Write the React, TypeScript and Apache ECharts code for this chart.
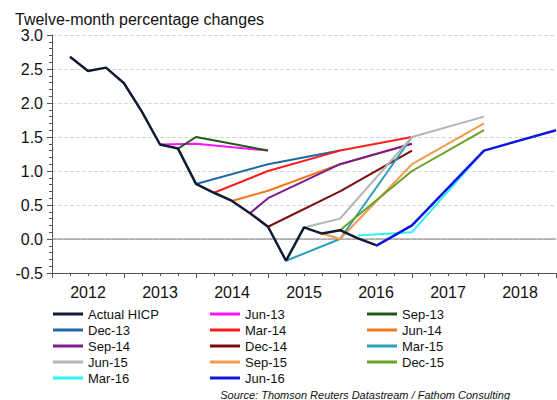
import React, { useEffect, useRef } from "react";
import * as echarts from "echarts";

// x positions are quarter indices counted from the start of 2012 (1 = end of Q1 2012)
const years = ["2012", "2013", "2014", "2015", "2016", "2017", "2018"];

const actualQ = [1, 2, 3, 4, 5, 6, 7, 8, 9, 10, 11, 12, 13, 14, 15, 16, 17, 18];
const actualHICP = [2.68, 2.47, 2.52, 2.29, 1.87, 1.39, 1.33, 0.81, 0.68, 0.56, 0.38, 0.18, -0.32, 0.17, 0.08, 0.13, 0.01, -0.09];

const jun13Q = [6, 8, 12];
const jun13 = [1.39, 1.4, 1.3];
const sep13Q = [7, 8, 12];
const sep13 = [1.33, 1.5, 1.3];
const dec13Q = [8, 12, 16];
const dec13 = [0.81, 1.1, 1.3];
const mar14Q = [9, 12, 16, 20];
const mar14 = [0.68, 1.0, 1.3, 1.5];
const jun14Q = [10, 12, 16, 20];
const jun14 = [0.56, 0.71, 1.1, 1.4];
const sep14Q = [11, 12, 16, 20];
const sep14 = [0.38, 0.6, 1.1, 1.4];
const dec14Q = [12, 16, 20];
const dec14 = [0.18, 0.7, 1.3];
const mar15Q = [13, 16, 20];
const mar15 = [-0.32, 0.0, 1.5];
const jun15Q = [14, 16, 20, 24];
const jun15 = [0.17, 0.3, 1.5, 1.8];
const sep15Q = [15, 16, 20, 24];
const sep15 = [0.08, 0.0, 1.1, 1.7];
const dec15Q = [16, 20, 24];
const dec15 = [0.13, 1.0, 1.6];
const mar16Q = [17, 20, 24];
const mar16 = [0.05, 0.1, 1.3];
const jun16Q = [18, 20, 24, 28];
const jun16 = [-0.1, 0.2, 1.3, 1.6];

const seriesNames = [
  "Actual HICP", "Jun-13", "Sep-13",
  "Dec-13", "Mar-14", "Jun-14",
  "Sep-14", "Dec-14", "Mar-15",
  "Jun-15", "Sep-15", "Dec-15",
  "Mar-16", "Jun-16",
];

const FONT = '"Liberation Sans", Arial, sans-serif';

const zip = (q: number[], v: number[]) => q.map((x, i) => [x, v[i]]);

export default function App() {
  const ref = useRef<HTMLDivElement>(null);
  useEffect(() => {
    if (!ref.current) return;
    const chart = echarts.init(ref.current, undefined, { renderer: "svg" });

    const mk = (name: string, q: number[], v: number[], color: string, width = 2, z = 2) => ({
      name,
      type: "line",
      xAxisIndex: 0,
      data: zip(q, v),
      symbol: "none",
      lineStyle: { color, width },
      itemStyle: { color },
      z,
      silent: true,
    });

    const series: any[] = [
      {
        name: "zero",
        type: "line",
        xAxisIndex: 0,
        data: [[0, 0], [28, 0]],
        symbol: "none",
        lineStyle: { color: "#7a7a7a", width: 1 },
        silent: true,
        z: 1,
      },
      mk("Jun-13", jun13Q, jun13, "#ff10ff"),
      mk("Sep-13", sep13Q, sep13, "#1d5a14"),
      mk("Dec-13", dec13Q, dec13, "#1f68a6"),
      mk("Mar-14", mar14Q, mar14, "#ff1c1c"),
      mk("Jun-14", jun14Q, jun14, "#f27a1a"),
      mk("Sep-14", sep14Q, sep14, "#7b1c8e"),
      mk("Dec-14", dec14Q, dec14, "#7a0c0c"),
      mk("Mar-15", mar15Q, mar15, "#2a9fbd"),
      mk("Jun-15", jun15Q, jun15, "#b4b4b4"),
      mk("Sep-15", sep15Q, sep15, "#f29a52"),
      mk("Dec-15", dec15Q, dec15, "#6aa024"),
      mk("Mar-16", mar16Q, mar16, "#2cf4f8"),
      mk("Jun-16", jun16Q, jun16, "#0c16e0", 2.5),
      mk("Actual HICP", actualQ, actualHICP, "#0e1a33", 2.5, 3),
    ];

    chart.setOption({
      animation: false,
      title: {
        text: "Twelve-month percentage changes",
        left: 15,
        top: 11,
        padding: 0,
        textStyle: { fontFamily: FONT, fontSize: 16, fontWeight: "normal", color: "#111" },
      },
      grid: { left: 52, right: 1, top: 35, bottom: 127, containLabel: false },
      legend: {
        data: seriesNames,
        left: 53,
        top: 306,
        width: 475,
        padding: 0,
        itemGap: 0,
        itemWidth: 30,
        itemHeight: 3,
        icon: "rect",
        selectedMode: false,
        textStyle: { fontFamily: FONT, fontSize: 13, color: "#111", width: 122, lineHeight: 16 },
      },
      xAxis: [
        {
          type: "value",
          min: 0,
          max: 28,
          interval: 4,
          position: "bottom",
          axisLine: { onZero: false, lineStyle: { color: "#555", width: 1 } },
          axisTick: { show: true, length: 5, lineStyle: { color: "#555" } },
          minorTick: { show: true, splitNumber: 4, length: 3, lineStyle: { color: "#555" } },
          axisLabel: { show: false },
          splitLine: { show: false },
        },
        {
          type: "category",
          data: years,
          boundaryGap: true,
          position: "bottom",
          offset: 0,
          axisLine: { show: false, onZero: false },
          axisTick: { show: false },
          axisLabel: { margin: 11, fontFamily: FONT, fontSize: 16, color: "#111" },
          splitLine: { show: false },
        },
      ],
      yAxis: {
        type: "value",
        min: -0.5,
        max: 3.0,
        interval: 0.5,
        axisLine: { show: true, lineStyle: { color: "#555", width: 1 } },
        axisTick: { show: true, length: 5, lineStyle: { color: "#555" } },
        minorTick: { show: true, splitNumber: 5, length: 3, lineStyle: { color: "#555" } },
        axisLabel: {
          margin: 9,
          fontFamily: FONT,
          fontSize: 16,
          color: "#111",
          formatter: (v: number) => v.toFixed(1),
        },
        splitLine: { show: true, lineStyle: { color: "#d8d8d8", type: "dashed", width: 1 } },
      },
      graphic: [
        {
          type: "text",
          style: {
            text: "Source: Thomson Reuters Datastream / Fathom Consulting",
            x: 510,
            y: 395,
            align: "right",
            verticalAlign: "middle",
            font: 'italic 11px "Liberation Sans", Arial, sans-serif',
            fill: "#111",
          },
        },
      ],
      series,
    });

    return () => chart.dispose();
  }, []);

  return (
    <div
      ref={ref}
      style={{ position: "fixed", left: 0, top: 0, width: 557, height: 400, background: "#fff" }}
    />
  );
}
